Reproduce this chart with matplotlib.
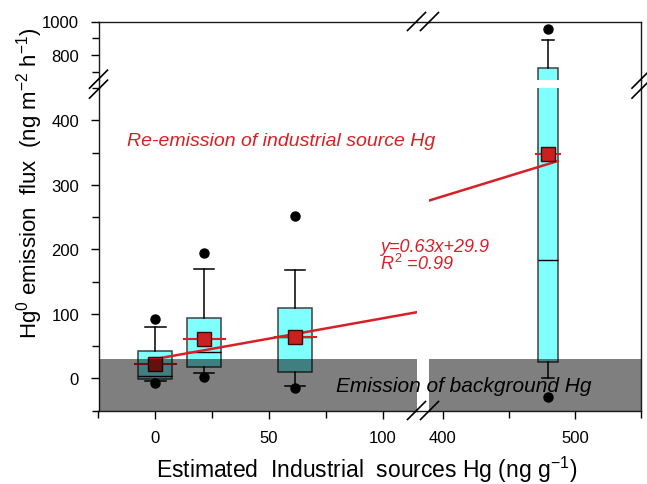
import numpy as np
import matplotlib
matplotlib.use("Agg")
import matplotlib.pyplot as plt
from matplotlib.lines import Line2D
from matplotlib.ticker import MultipleLocator

plt.rcParams['font.family'] = ['Liberation Sans', 'DejaVu Sans']
plt.rcParams['mathtext.fontset'] = 'custom'
plt.rcParams['mathtext.rm'] = 'Liberation Sans'
plt.rcParams['mathtext.it'] = 'Liberation Sans:italic'

# === BOX STATISTICS PER INDUSTRIAL-SOURCE GROUP ===

hg_conc = [0, 21.5, 61.5, 480]          # ng/g, box positions
q1 = [-1, 17.5, 9, 25]
medians = [3, 40, 64, 183]
q3 = [43, 93, 109, 721]
whisker_lo = [-4, 8, -11.5, 0]
whisker_hi = [79, 170, 168, 888]
means = [22, 60.5, 64.6, 348]
outlier_lo = [-8, 2.5, -15.5, -28.5]
outlier_hi = [92, 194, 251, 954]

# regression of flux on industrial source Hg
slope, intercept, r2 = 0.63, 29.9, 0.99
fit_x = [0, 487]
background_flux = 30

# axis ranges of the broken axes
x_left, x_right = (-25, 115), (390, 550)
y_low, y_high = (-50, 450), (650, 1000)

RED = '#d91f26'
CYAN = '#80ffff'

W, H = 647, 485
fig = plt.figure(figsize=(W / 100, H / 100), dpi=100)


def rect(l, t, r, b):
    return [l / W, 1 - b / H, (r - l) / W, (b - t) / H]


ax_ll = fig.add_axes(rect(98.5, 89, 416.7, 411.5))
ax_lr = fig.add_axes(rect(429.3, 89, 641, 411.5))
ax_ul = fig.add_axes(rect(98.5, 22.5, 416.7, 81.3))
ax_ur = fig.add_axes(rect(429.3, 22.5, 641, 81.3))
axes = [ax_ll, ax_lr, ax_ul, ax_ur]

stats = []
for i in range(len(hg_conc)):
    stats.append(dict(med=medians[i], q1=q1[i], q3=q3[i],
                      whislo=whisker_lo[i], whishi=whisker_hi[i],
                      mean=means[i], fliers=[outlier_lo[i], outlier_hi[i]]))

for ax in axes:
    ax.patch.set_alpha(0)
    ax.bxp(stats, positions=hg_conc, widths=15, capwidths=9,
           patch_artist=True, showmeans=True, manage_ticks=False,
           boxprops=dict(facecolor=CYAN, edgecolor='#404040', linewidth=1.1),
           medianprops=dict(color='black', linewidth=1.0),
           whiskerprops=dict(color='black', linewidth=1.1),
           capprops=dict(color='black', linewidth=1.1),
           flierprops=dict(marker='o', markerfacecolor='black',
                           markeredgecolor='black', markersize=6.5),
           meanprops=dict(marker='s', markerfacecolor='#cc1f1f',
                          markeredgecolor='#3a0a0a', markersize=9.5, zorder=4))
    # mean line across each box
    for x, m in zip(hg_conc, means):
        ax.plot([x - 9, x + 9], [m, m], color=RED, lw=1.5, zorder=2.6)
    fx = np.array(fit_x)
    ax.plot(fx, slope * fx + intercept, color=RED, lw=1.8, zorder=3)

for ax in (ax_ll, ax_lr):
    ax.axhspan(y_low[0], background_flux, color='black', alpha=0.5, lw=0, zorder=5)
    ax.set_ylim(*y_low)
for ax in (ax_ul, ax_ur):
    ax.set_ylim(*y_high)
for ax in (ax_ll, ax_ul):
    ax.set_xlim(*x_left)
for ax in (ax_lr, ax_ur):
    ax.set_xlim(*x_right)

# === SPINES AND TICKS ===

for ax in axes:
    for s in ax.spines.values():
        s.set_linewidth(1.0)
        s.set_color('#1a1a1a')
    ax.tick_params(which='both', direction='out', width=1.0, labelsize=12, pad=8)
    ax.tick_params(which='major', length=6)
    ax.tick_params(which='minor', length=5)

ax_ll.spines[['top', 'right']].set_visible(False)
ax_lr.spines[['top', 'left']].set_visible(False)
ax_ul.spines[['bottom', 'right']].set_visible(False)
ax_ur.spines[['bottom', 'left']].set_visible(False)

ax_ll.xaxis.set_major_locator(MultipleLocator(50))
ax_ll.xaxis.set_minor_locator(MultipleLocator(25))
ax_ll.yaxis.set_major_locator(MultipleLocator(100))
ax_ll.yaxis.set_minor_locator(MultipleLocator(50))

ax_lr.xaxis.set_major_locator(MultipleLocator(100))
ax_lr.xaxis.set_minor_locator(MultipleLocator(50))
ax_lr.tick_params(which='both', left=False, labelleft=False)

ax_ul.yaxis.set_major_locator(MultipleLocator(200))
ax_ul.yaxis.set_minor_locator(MultipleLocator(100))
ax_ul.tick_params(which='both', bottom=False, labelbottom=False)

ax_ur.tick_params(which='both', bottom=False, labelbottom=False,
                  left=False, labelleft=False)

# === CONTINUOUS FRAME ACROSS THE GAPS + BREAK MARKS ===

pll = ax_ll.get_position()
plr = ax_lr.get_position()
pul = ax_ul.get_position()
frame_kw = dict(color='#1a1a1a', lw=1.0)
fig.add_artist(Line2D([pll.x0, pll.x0], [pll.y1, pul.y0], **frame_kw))
fig.add_artist(Line2D([plr.x1, plr.x1], [pll.y1, pul.y0], **frame_kw))
fig.add_artist(Line2D([pll.x1, plr.x0], [pul.y1, pul.y1], **frame_kw))
fig.add_artist(Line2D([pll.x1, plr.x0], [pll.y0, pll.y0], **frame_kw))


def slash_pair(cx, cy, sx, sy):
    # two parallel strokes, centre and spacing in figure pixels
    for k in (-0.5, 0.5):
        x0, y0 = cx * W + k * sx, cy * H + k * sy
        fig.add_artist(Line2D([(x0 - 9) / W, (x0 + 9) / W],
                              [(y0 - 9) / H, (y0 + 9) / H],
                              color='black', lw=1.2))


gap_y = (pll.y1 + pul.y0) / 2
gap_x = (pll.x1 + plr.x0) / 2
slash_pair(pll.x0, gap_y, 0, 10)
slash_pair(plr.x1, gap_y, 0, 10)
slash_pair(gap_x, pul.y1, 13, 0)
slash_pair(gap_x, pll.y0, 13, 0)

# === ANNOTATIONS ===

fig.text(-12.5, 362, "Re-emission of industrial source Hg", transform=ax_ll.transData,
         color=RED, fontsize=14, style='italic', va='baseline')
fig.text(98.8, 198, f"y={slope}x+{intercept}", transform=ax_ll.transData,
         color=RED, fontsize=13, style='italic', va='baseline')
fig.text(98.8, 169.5, f"$\\mathit{{R}}^{{2}}$ ={r2}", transform=ax_ll.transData,
         color=RED, fontsize=13, style='italic', va='baseline')
fig.text(79.3, -19.6, "Emission of background Hg", transform=ax_ll.transData,
         color='black', fontsize=15, style='italic', va='baseline')

fig.text(30 / W, 1 - 183 / H, "Hg$^{0}$ emission  flux  (ng m$^{-2}$ h$^{-1}$)",
         rotation=90, ha='center', va='center', fontsize=16)
fig.text(366.7 / W, 1 - 478 / H, "Estimated  Industrial  sources Hg (ng g$^{-1}$)",
         ha='center', va='baseline', fontsize=16.5)

fig.savefig("out.png", dpi=100, facecolor='white')
